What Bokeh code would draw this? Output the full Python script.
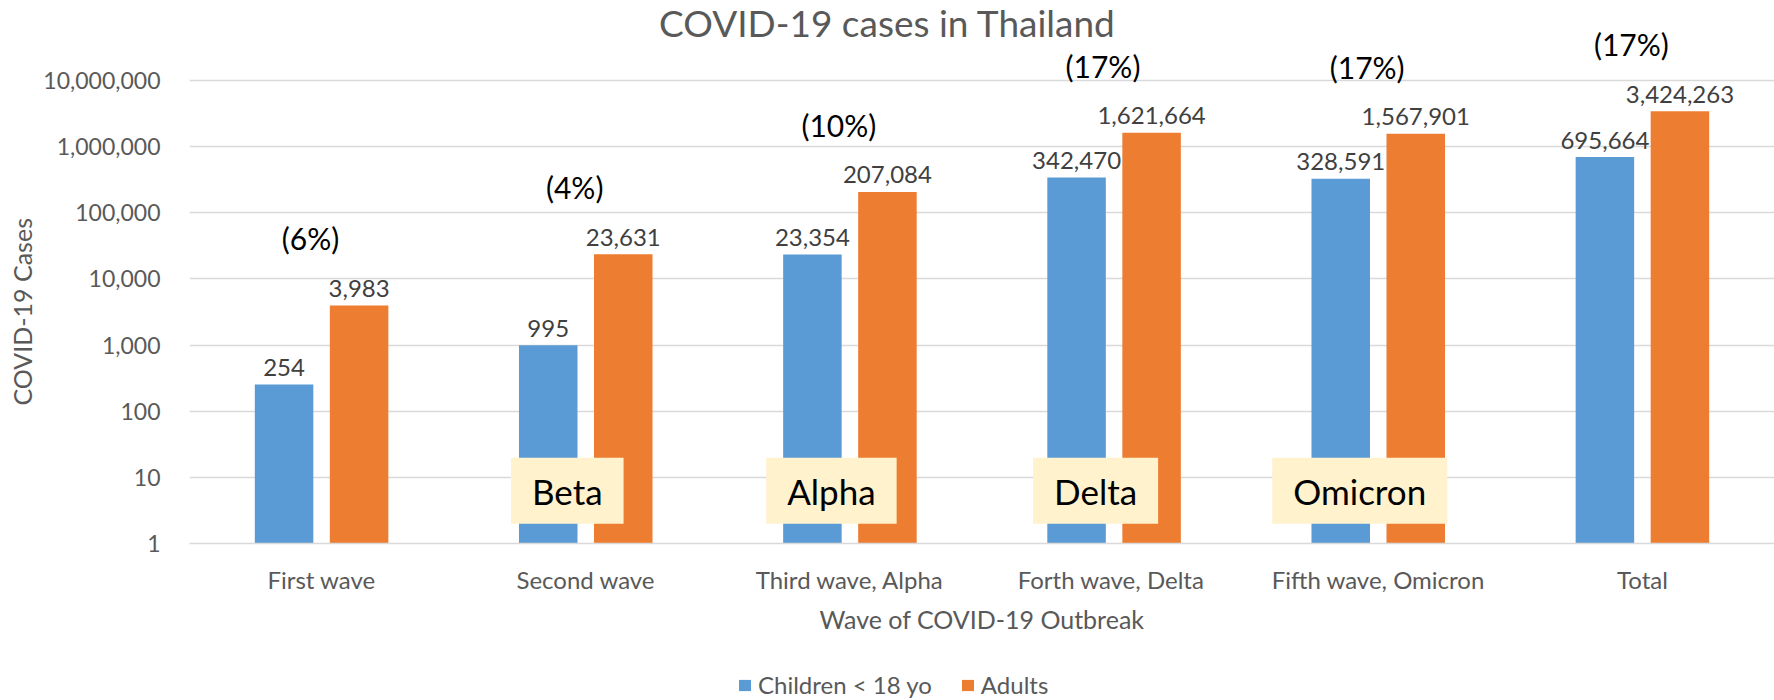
from bokeh.plotting import figure
from bokeh.layouts import column
from bokeh.models import (FactorRange, Range1d, FixedTicker, NumeralTickFormatter,
                          Legend, LegendItem, ColumnDataSource, Label, Title)
from bokeh.transform import dodge
from bokeh.core.properties import value
from bokeh.embed import file_html
from bokeh.resources import INLINE

# ---------------- data ----------------
categories = ["First wave", "Second wave", "Third wave, Alpha", "Forth  wave, Delta",
              "Fifth wave, Omicron", "Total"]
children = [254, 995, 23354, 342470, 328591, 695664]
adults = [3983, 23631, 207084, 1621664, 1567901, 3424263]
share_labels = ["(6%)", "(4%)", "(10%)", "(17%)", "(17%)", "(17%)"]
variants = ["", "Beta", "Alpha", "Delta", "Omicron", ""]
y_ticks = [1, 10, 100, 1000, 10000, 100000, 1000000, 10000000]
series_names = ["Children < 18 yo", "Adults"]
title_text = "COVID-19 cases in Thailand"
x_title = "Wave of COVID-19 Outbreak"
y_title = "COVID-19 Cases"

FONT = "Lato"
BLUE = "#5B9BD5"
ORANGE = "#ED7D31"
GREY = "#595959"

src = ColumnDataSource(dict(
    cat=categories,
    children=children,
    adults=adults,
    children_txt=[f"{v:,}" for v in children],
    adults_txt=[f"{v:,}" for v in adults],
    share=share_labels,
))

vi = [i for i, v in enumerate(variants) if v]
vsrc = ColumnDataSource(dict(cat=[categories[i] for i in vi],
                             txt=[variants[i] for i in vi]))

# frame spans the full height above the x axis; 1..1e7 occupy its lower part
DECADE_PX = 66.14
FRAME_H = 543
y_top = 10 ** (FRAME_H / DECADE_PX)

p = figure(x_range=FactorRange(factors=categories, range_padding=0),
           y_range=Range1d(1, y_top), y_axis_type="log",
           width=1774, height=652, output_backend="svg", toolbar_location=None,
           min_border_left=189, min_border_right=0, min_border_top=0,
           min_border_bottom=109)
p.outline_line_color = None
p.background_fill_color = "white"
p.border_fill_color = "white"

# title (drawn inside the plotting area, above the bars)
p.add_layout(Label(x=698, y=521, x_units="screen", y_units="screen",
                   text=title_text, text_align="center", text_baseline="alphabetic",
                   text_font=FONT, text_font_size="37px", text_color=GREY))

# grid
p.xgrid.grid_line_color = None
p.ygrid.grid_line_color = "#D9D9D9"
p.ygrid.grid_line_width = 1.5

# y axis
p.yaxis.ticker = FixedTicker(ticks=y_ticks)
p.yaxis.formatter = NumeralTickFormatter(format="0,0")
p.yaxis.axis_line_color = None
p.yaxis.major_tick_line_color = None
p.yaxis.minor_tick_line_color = None
p.yaxis.major_label_standoff = 23
p.yaxis.major_label_text_font = FONT
p.yaxis.major_label_text_font_size = "23px"
p.yaxis.major_label_text_color = GREY

# y axis title, centred on the 1..1e7 part of the axis
p.add_layout(Title(text=y_title, align="left", offset=138, text_font=FONT,
                   text_font_size="25px", text_font_style="normal",
                   text_color=GREY, standoff=8), "left")

# x axis
p.xaxis.axis_line_color = "#D9D9D9"
p.xaxis.axis_line_width = 1.5
p.xaxis.major_tick_line_color = None
p.xaxis.minor_tick_line_color = None
p.xaxis.major_label_standoff = 15
p.xaxis.major_label_text_font = FONT
p.xaxis.major_label_text_font_size = "24px"
p.xaxis.major_label_text_color = GREY
p.xaxis.axis_label = x_title
p.xaxis.axis_label_text_font = FONT
p.xaxis.axis_label_text_font_size = "25px"
p.xaxis.axis_label_text_font_style = "normal"
p.xaxis.axis_label_text_color = GREY
p.xaxis.axis_label_standoff = 7

# bars
OFF = 0.142
W = 0.2215
rb = p.vbar(x=dodge("cat", -OFF, range=p.x_range), top="children", bottom=1, width=W,
            source=src, fill_color=BLUE, line_color=None)
ra = p.vbar(x=dodge("cat", OFF, range=p.x_range), top="adults", bottom=1, width=W,
            source=src, fill_color=ORANGE, line_color=None)

# value labels
p.text(x=dodge("cat", -OFF, range=p.x_range), y="children", text="children_txt", source=src,
       text_align="center", text_baseline="alphabetic", y_offset=-17,
       text_font=value(FONT), text_font_size="24px", text_color="#404040")
p.text(x=dodge("cat", OFF, range=p.x_range), y="adults", text="adults_txt", source=src,
       text_align="center", text_baseline="alphabetic", y_offset=-17,
       text_font=value(FONT), text_font_size="24px", text_color="#404040")

# share of children labels
p.text(x=dodge("cat", -0.042, range=p.x_range), y="adults", text="share", source=src,
       text_align="center", text_baseline="middle", y_offset=-67,
       text_font=value(FONT), text_font_size="30px", text_color="black")

# variant boxes
p.text(x=dodge("cat", -0.07, range=p.x_range), y=6.3, text="txt", source=vsrc,
       text_align="center", text_baseline="middle",
       text_font=value(FONT), text_font_size="35px", text_color="black",
       background_fill_color="#FFF2CC",
       padding=dict(left=21, right=21, top=12, bottom=12))

# ---------------- legend strip under the chart ----------------
q = figure(width=1774, height=48, output_backend="svg", toolbar_location=None,
           x_range=Range1d(0, 1), y_range=Range1d(0, 1),
           x_axis_location=None, y_axis_location=None,
           min_border_left=0, min_border_right=0, min_border_top=0, min_border_bottom=0)
q.grid.visible = False
q.outline_line_color = None
q.background_fill_color = "white"
q.border_fill_color = "white"
# placeholder swatch renderers (entirely outside the visible ranges) that feed the legend
lb = q.vbar(x=[-5], top=[-2], bottom=-3, width=0.1, fill_color=BLUE, line_color=None)
la = q.vbar(x=[-5], top=[-2], bottom=-3, width=0.1, fill_color=ORANGE, line_color=None)
legend = Legend(items=[LegendItem(label=series_names[0], renderers=[lb]),
                       LegendItem(label=series_names[1], renderers=[la])],
                location=(548, 1), orientation="horizontal",
                border_line_color=None, background_fill_alpha=0,
                padding=0, margin=0, spacing=28, label_standoff=6,
                glyph_width=15, glyph_height=14, label_height=16,
                label_text_font=FONT, label_text_font_size="24px",
                label_text_color=GREY)
q.add_layout(legend)

layout = column(p, q, spacing=0)
open("out.html", "w").write(file_html(layout, INLINE))
